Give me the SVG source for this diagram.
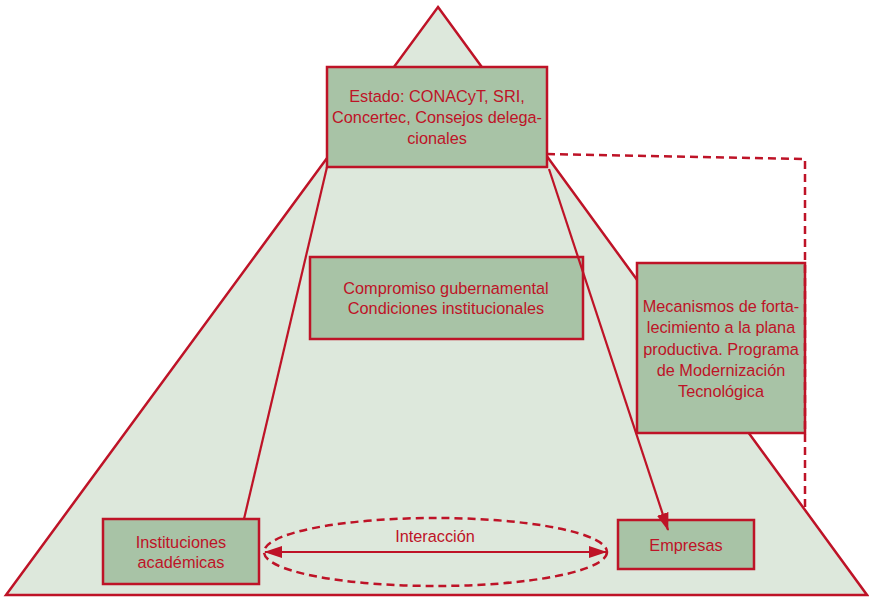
<svg xmlns="http://www.w3.org/2000/svg" width="869" height="597" viewBox="0 0 869 597">
<defs>
<style>
.box{fill:#a8c3a6;stroke:#be1327;stroke-width:2.5}
.ln{fill:none;stroke:#be1327;stroke-width:2.2}
.dash{fill:none;stroke:#be1327;stroke-width:2.5;stroke-dasharray:8 5}
text{font-family:"Liberation Sans",Arial,sans-serif;font-size:16.3px;fill:#be1327;text-anchor:middle}
</style>
<marker id="ah" viewBox="0 0 18 12" refX="17" refY="6" markerWidth="18" markerHeight="12" markerUnits="userSpaceOnUse" orient="auto-start-reverse">
<path d="M0,0 L18,6 L0,12 z" fill="#be1327"/>
</marker>
</defs>
<rect width="869" height="597" fill="#ffffff"/>
<g id="pyramid">
<polygon points="438,7 867,595 6,595" fill="#dde8dc" stroke="#be1327" stroke-width="2.5" stroke-linejoin="miter"/>
</g>
<g id="estado">
<rect class="box" x="327" y="67" width="220" height="100"/>
<text x="437" y="102">Estado: CONACyT, SRI,</text>
<text x="437" y="123">Concertec, Consejos delega-</text>
<text x="437" y="144">cionales</text>
</g>
<g id="compromiso">
<rect class="box" x="310" y="257" width="273" height="82"/>
<text x="446" y="294">Compromiso gubernamental</text>
<text x="446" y="314">Condiciones institucionales</text>
</g>
<g id="mecanismos">
<rect class="box" x="637" y="263" width="168" height="170"/>
<text x="721" y="312">Mecanismos de forta-</text>
<text x="721" y="333">lecimiento a la plana</text>
<text x="721" y="355">productiva. Programa</text>
<text x="721" y="376">de Modernización</text>
<text x="721" y="397">Tecnológica</text>
</g>
<g id="instituciones">
<rect class="box" x="103" y="519" width="156" height="65"/>
<text x="181" y="548">Instituciones</text>
<text x="181" y="568">académicas</text>
</g>
<g id="empresas">
<rect class="box" x="618" y="520" width="136" height="49"/>
<text x="686" y="551">Empresas</text>
</g>
<g id="connectors">
<line class="ln" x1="327" y1="167" x2="244" y2="519"/>
<line class="ln" x1="549" y1="169" x2="668" y2="530" marker-end="url(#ah)"/>
<polyline class="dash" points="547,154 805,159 805,507"/>
<ellipse class="dash" cx="435.5" cy="552" rx="171.5" ry="34"/>
<line class="ln" x1="265" y1="552" x2="606" y2="552" marker-start="url(#ah)" marker-end="url(#ah)"/>
<text x="435" y="542">Interacción</text>
</g>
</svg>
